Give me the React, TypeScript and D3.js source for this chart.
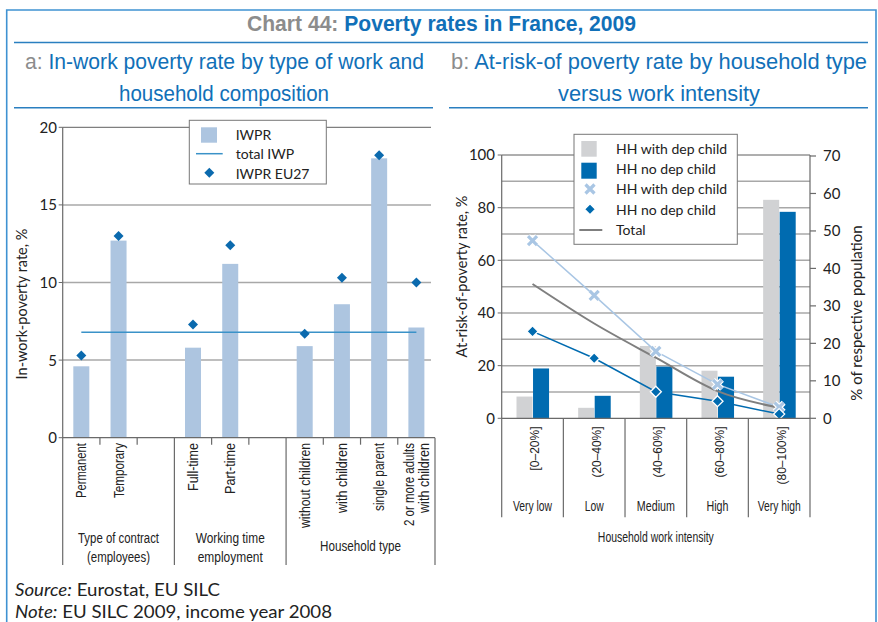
import React from "react";
import * as d3 from "d3";

// ---------- data ----------
const leftCategories = ["Permanent", "Temporary", "", "Full-time", "Part-time", "", "without children", "with children", "single parent", "2 or more adults\nwith children"];
const iwprValues = [4.6, 12.7, null, 5.8, 11.2, null, 5.9, 8.6, 18.0, 7.1];
const iwprEU27Values = [5.3, 13.0, null, 7.3, 12.4, null, 6.7, 10.3, 18.2, 10.0];
const totalIWP = 6.8;
const leftTicks = [0, 5, 10, 15, 20];
const leftGroups = [
  { label: ["Type of contract", "(employees)"], from: 0, to: 3 },
  { label: ["Working time", "employment"], from: 3, to: 6 },
  { label: ["Household type"], from: 6, to: 10 },
];

const intensityRanges = ["[0\u201320%]", "(20\u201340%]", "(40\u201360%]", "(60\u201380%]", "(80\u2013100%]"];
const intensityLabels = ["Very low", "Low", "Medium", "High", "Very high"];
const popWithChild = [5.8, 2.8, 19.3, 12.7, 58.3];
const popNoChild = [13.3, 6.0, 13.8, 11.1, 55.1];
const arpWithChild = [67.5, 46.7, 25.4, 12.9, 4.2];
const arpNoChild = [33.0, 22.8, 10.1, 6.5, 1.6];
const arpTotal = [51, 36, 23, 10.3, 4];
const rightLeftTicks = [0, 20, 40, 60, 80, 100];
const rightGridTicks = [0, 10, 20, 30, 40, 50, 60, 70, 80, 90, 100];
const rightRightTicks = [0, 10, 20, 30, 40, 50, 60, 70];

// ---------- style ----------
// rendered widths of the condensed-typeface labels (px), used to squeeze a regular font
const labelWidth: Record<string, number> = {
  "Permanent": 55, "Temporary": 55, "Full-time": 48, "Part-time": 51,
  "without children": 85, "with children": 70, "single parent": 68, "2 or more adults": 83,
  "Type of contract": 81, "(employees)": 63, "Working time": 69, "employment": 65, "Household type": 81,
  "[0\u201320%]": 44, "(20\u201340%]": 51, "(40\u201360%]": 51, "(60\u201380%]": 51, "(80\u2013100%]": 58,
  "Very low": 39, "Low": 19, "Medium": 38, "High": 22, "Very high": 43,
  "Household work intensity": 116,
};
const COND = "'Liberation Sans', Arial, sans-serif";
const REG = "Lato, 'Open Sans', sans-serif";
const FRAME = "#3f92d2";
const RULE = "#2a7fc0";
const TITLE_BLUE = "#1170b8";
const TITLE_GRAY = "#8c8c8c";
const GRID = "#a8a8a8";
const AXIS = "#6a6a6a";
const BAR_LIGHT = "#adc5e0";
const EU_BLUE = "#0b6aae";
const IWP_LINE = "#3a92c8";
const BAR_GRAY = "#d1d2d4";
const BAR_BLUE = "#006bb0";
const X_BLUE = "#a9c6e4";
const TOTAL_GRAY = "#7f7f7f";
const TEXT = "#222";

const diamond = (cx: number, cy: number, r: number) =>
  `M${cx},${cy - r}L${cx + r},${cy}L${cx},${cy + r}L${cx - r},${cy}Z`;

function FT(props: any) {
  const { w, children, ...rest } = props;
  const fit = w != null ? { textLength: w, lengthAdjust: "spacingAndGlyphs" } : {};
  return <text {...rest} {...fit}>{children}</text>;
}

function XMark({ cx, cy, r }: { cx: number; cy: number; r: number }) {
  const d = `M${cx - r},${cy - r}L${cx + r},${cy + r}M${cx - r},${cy + r}L${cx + r},${cy - r}`;
  return (
    <g>
      <path d={d} stroke="#fff" strokeWidth={5.5} fill="none" />
      <path d={d} stroke={X_BLUE} strokeWidth={3.2} fill="none" />
    </g>
  );
}

function LeftChart() {
  const x0 = 62.7, x1 = 435, yTop = 127.3, yBot = 437.7, yGroupBot = 565;
  const x = d3.scaleBand<number>().domain(d3.range(leftCategories.length)).range([x0, x1]).padding(0);
  const y = d3.scaleLinear().domain([0, 20]).range([yBot, yTop]);
  const bw = x.bandwidth() * 0.43;
  const cx = (i: number) => (x(i) as number) + x.bandwidth() / 2;
  const validIdx = iwprValues.map((v, i) => (v == null ? -1 : i)).filter((i) => i >= 0);
  const firstC = cx(validIdx[0]);
  const lastC = cx(validIdx[validIdx.length - 1]);
  const boundaries = d3.range(leftCategories.length + 1).map((i) => x0 + i * x.bandwidth());
  const groupEdges = new Set<number>();
  leftGroups.forEach((g) => { groupEdges.add(g.from); groupEdges.add(g.to); });

  return (
    <g>
      {leftTicks.filter((t) => t > 0).map((t) => (
        <line key={t} x1={x0} x2={431} y1={y(t)} y2={y(t)} stroke={t === 20 ? "#5f5f5f" : GRID} strokeWidth={t === 20 ? 1 : 1.5} />
      ))}
      {iwprValues.map((v, i) =>
        v == null ? null : (
          <rect key={i} x={cx(i) - bw / 2} y={y(v)} width={bw} height={yBot - y(v)} fill={BAR_LIGHT} />
        )
      )}
      <line x1={firstC} x2={lastC} y1={y(totalIWP)} y2={y(totalIWP)} stroke={IWP_LINE} strokeWidth={1.5} />
      {iwprEU27Values.map((v, i) =>
        v == null ? null : <path key={i} d={diamond(cx(i), y(v), 5)} fill={EU_BLUE} />
      )}
      <line x1={x0} x2={x0} y1={yTop} y2={yGroupBot} stroke={AXIS} strokeWidth={1.2} />
      <line x1={x0} x2={x1} y1={yBot} y2={yBot} stroke={AXIS} strokeWidth={1.2} />
      {leftTicks.map((t) => (
        <g key={t}>
          <line x1={x0 - 4} x2={x0} y1={y(t)} y2={y(t)} stroke={AXIS} strokeWidth={1} />
          <text x={57} y={y(t)} dy="0.36em" textAnchor="end" fontFamily={REG} fontSize={15} fill={TEXT}>{t}</text>
        </g>
      ))}
      {boundaries.map((bx, i) =>
        i === 0 ? null : (
          <line key={i} x1={bx} x2={bx} y1={yBot} y2={groupEdges.has(i) ? yGroupBot : yBot + 7} stroke={AXIS} strokeWidth={1.2} />
        )
      )}
      {leftCategories.map((c, i) => {
        if (!c) return null;
        const lines = c.split("\n");
        return (
          <g key={i}>
            {lines.map((ln, k) => (
              <FT key={k} w={labelWidth[ln]} transform={`translate(${cx(i) + (k - (lines.length - 1) / 2) * 14.5},443) rotate(-90)`} dy="0.36em" textAnchor="end" fontFamily={COND} fontSize={14} fill={TEXT}>{ln}</FT>
            ))}
          </g>
        );
      })}
      {leftGroups.map((g, i) => {
        const gx = (boundaries[g.from] + boundaries[g.to]) / 2;
        const baseY = g.label.length === 2 ? 543 : 551;
        return (
          <g key={i}>
            {g.label.map((l, k) => (
              <FT key={k} w={labelWidth[l]} x={gx} y={baseY + k * 19} textAnchor="middle" fontFamily={COND} fontSize={14} fill={TEXT}>{l}</FT>
            ))}
          </g>
        );
      })}
      <text transform={`translate(22,304) rotate(-90)`} dy="0.36em" textAnchor="middle" fontFamily={REG} fontSize={14.5} fill={TEXT}>In-work-poverty rate, %</text>
      {/* legend */}
      <rect x={189.3} y={120.3} width={137} height={63.7} fill="#fff" stroke="#777" strokeWidth={1} />
      <rect x={201} y={127.3} width={16} height={15.4} fill={BAR_LIGHT} />
      <text x={235.7} y={135} dy="0.36em" fontFamily={REG} fontSize={14} fill={TEXT}>IWPR</text>
      <line x1={196} x2={222.7} y1={153.7} y2={153.7} stroke={IWP_LINE} strokeWidth={1.5} />
      <text x={235.7} y={153.5} dy="0.36em" fontFamily={REG} fontSize={14} fill={TEXT}>total IWP</text>
      <path d={diamond(209.3, 172.7, 5)} fill={EU_BLUE} />
      <text x={235.7} y={173.5} dy="0.36em" fontFamily={REG} fontSize={14} fill={TEXT}>IWPR EU27</text>
    </g>
  );
}

function RightChart() {
  const x0 = 501.7, x1 = 810, yTop = 155, yBot = 418.3, yGroupBot = 517.3;
  const x = d3.scaleBand<number>().domain(d3.range(intensityRanges.length)).range([x0, x1]).padding(0);
  const yL = d3.scaleLinear().domain([0, 100]).range([yBot, yTop]);
  const yR = d3.scaleLinear().domain([0, 70]).range([yBot, yTop + 1]);
  const cx = (i: number) => (x(i) as number) + x.bandwidth() / 2;
  const half = x.bandwidth() * 0.26;
  const inner = d3.scaleBand<string>().domain(["with", "no"]).range([-half, half]).padding(0);
  const boundaries = d3.range(intensityRanges.length + 1).map((i) => x0 + i * x.bandwidth());
  const line = d3.line<number>().x((_, i) => cx(i)).y((v) => yL(v));
  const totalLine = d3.line<number>().x((_, i) => cx(i)).y((v) => yL(v)).curve(d3.curveMonotoneX);

  return (
    <g>
      {rightGridTicks.filter((t) => t > 0).map((t) => (
        <line key={t} x1={x0} x2={x1} y1={yL(t)} y2={yL(t)} stroke={t === 100 ? "#5f5f5f" : GRID} strokeWidth={t === 100 ? 1 : 1.5} />
      ))}
      {popWithChild.map((v, i) => (
        <rect key={"w" + i} x={cx(i) + (inner("with") as number)} y={yR(v)} width={inner.bandwidth()} height={yBot - yR(v)} fill={BAR_GRAY} />
      ))}
      {popNoChild.map((v, i) => (
        <rect key={"n" + i} x={cx(i) + (inner("no") as number) + 0.5} y={yR(v)} width={inner.bandwidth()} height={yBot - yR(v)} fill={BAR_BLUE} />
      ))}
      <path d={line(arpWithChild) || ""} fill="none" stroke={X_BLUE} strokeWidth={1.5} />
      <path d={totalLine(arpTotal) || ""} fill="none" stroke={TOTAL_GRAY} strokeWidth={2} />
      <path d={line(arpNoChild) || ""} fill="none" stroke={BAR_BLUE} strokeWidth={1.5} />
      {arpWithChild.map((v, i) => <XMark key={i} cx={cx(i)} cy={yL(v)} r={4.5} />)}
      {arpNoChild.map((v, i) => (
        <path key={i} d={diamond(cx(i), yL(v), 5.5)} fill={BAR_BLUE} stroke="#fff" strokeWidth={1.3} />
      ))}
      <line x1={x0} x2={x0} y1={yTop} y2={yGroupBot} stroke={AXIS} strokeWidth={1.2} />
      <line x1={x1} x2={x1} y1={yTop} y2={yGroupBot} stroke={AXIS} strokeWidth={1.2} />
      <line x1={x0} x2={x1} y1={yBot} y2={yBot} stroke={AXIS} strokeWidth={1.2} />
      {boundaries.slice(1, -1).map((bx, i) => (
        <line key={i} x1={bx} x2={bx} y1={yBot} y2={yGroupBot} stroke={AXIS} strokeWidth={1.2} />
      ))}
      {rightLeftTicks.map((t) => (
        <g key={t}>
          <line x1={x0 - 4} x2={x0} y1={yL(t)} y2={yL(t)} stroke={AXIS} strokeWidth={1} />
          <text x={495} y={yL(t)} dy="0.36em" textAnchor="end" fontFamily={REG} fontSize={15} fill={TEXT}>{t}</text>
        </g>
      ))}
      {rightRightTicks.map((t) => (
        <g key={t}>
          <line x1={x1} x2={x1 + 6} y1={yR(t)} y2={yR(t)} stroke={AXIS} strokeWidth={1.2} />
          <text x={823} y={yR(t)} dy="0.36em" textAnchor="start" fontFamily={REG} fontSize={15} fill={TEXT}>{t}</text>
        </g>
      ))}
      {intensityRanges.map((r, i) => (
        <FT key={i} w={labelWidth[r]} transform={`translate(${cx(i) + 1.5},426.5) rotate(-90)`} dy="0.36em" textAnchor="end" fontFamily={COND} fontSize={13.5} fill={TEXT}>{r}</FT>
      ))}
      {intensityLabels.map((l, i) => (
        <FT key={i} w={labelWidth[l]} x={cx(i)} y={511} textAnchor="middle" fontFamily={COND} fontSize={14} fill={TEXT}>{l}</FT>
      ))}
      <FT w={labelWidth["Household work intensity"]} x={(x0 + x1) / 2} y={542} textAnchor="middle" fontFamily={COND} fontSize={14} fill={TEXT}>Household work intensity</FT>
      <text transform={`translate(462,276.5) rotate(-90)`} dy="0.36em" textAnchor="middle" fontFamily={REG} fontSize={14.5} fill={TEXT}>At-risk-of-poverty rate, %</text>
      <text transform={`translate(857,313) rotate(-90)`} dy="0.36em" textAnchor="middle" fontFamily={REG} fontSize={15} fill={TEXT}>% of respective population</text>
      {/* legend */}
      <rect x={574} y={134.3} width={163.3} height={110} fill="#fff" stroke="#777" strokeWidth={1} />
      <rect x={581.3} y={141} width={15.4} height={15.7} fill={BAR_GRAY} />
      <text x={616} y={149.3} dy="0.36em" fontFamily={REG} fontSize={14} fill={TEXT}>HH with dep child</text>
      <rect x={581.3} y={162.7} width={15.4} height={16} fill={BAR_BLUE} />
      <text x={616} y={168.5} dy="0.36em" fontFamily={REG} fontSize={14} fill={TEXT}>HH no dep child</text>
      <XMark cx={590} cy={189} r={4.5} />
      <text x={616} y={189.3} dy="0.36em" fontFamily={REG} fontSize={14} fill={TEXT}>HH with dep child</text>
      <path d={diamond(590, 209.3, 5.5)} fill={BAR_BLUE} stroke="#fff" strokeWidth={1.3} />
      <text x={616} y={209.8} dy="0.36em" fontFamily={REG} fontSize={14} fill={TEXT}>HH no dep child</text>
      <line x1={579.3} x2={602.3} y1={230} y2={230} stroke={TOTAL_GRAY} strokeWidth={2} />
      <text x={616} y={230} dy="0.36em" fontFamily={REG} fontSize={14} fill={TEXT}>Total</text>
    </g>
  );
}

export default function App() {
  return (
    <svg width={878} height={622} style={{ position: "absolute", left: 0, top: 0, background: "#fff" }}>
      <rect x={0} y={0} width={878} height={622} fill="#fff" />
      <path d="M6.7,640V10H876V640" fill="none" stroke={FRAME} strokeWidth={1.6} />
      <FT w={389} x={441.5} y={31} textAnchor="middle" fontFamily={COND} fontWeight="bold" fontSize={22}>
        <tspan fill={TITLE_GRAY}>Chart 44: </tspan>
        <tspan fill={TITLE_BLUE}>Poverty rates in France, 2009</tspan>
      </FT>
      <line x1={14} x2={868} y1={42.5} y2={42.5} stroke={RULE} strokeWidth={1.5} />
      <FT w={399} x={224.5} y={69} textAnchor="middle" fontFamily={COND} fontSize={22} fill={TITLE_BLUE}>
        <tspan fill={TITLE_GRAY}>a: </tspan>In-work poverty rate by type of work and
      </FT>
      <FT w={210} x={224} y={100.5} textAnchor="middle" fontFamily={COND} fontSize={22} fill={TITLE_BLUE}>household composition</FT>
      <FT w={416} x={659} y={69} textAnchor="middle" fontFamily={COND} fontSize={22} fill={TITLE_BLUE}>
        <tspan fill={TITLE_GRAY}>b: </tspan>At-risk-of poverty rate by household type
      </FT>
      <FT w={202} x={659} y={100.5} textAnchor="middle" fontFamily={COND} fontSize={22} fill={TITLE_BLUE}>versus work intensity</FT>
      <line x1={14} x2={433} y1={107.7} y2={107.7} stroke={RULE} strokeWidth={1.5} />
      <line x1={449} x2={868} y1={107.7} y2={107.7} stroke={RULE} strokeWidth={1.5} />
      <LeftChart />
      <RightChart />
      <FT w={205} x={15} y={596} fontFamily={REG} fontSize={17} fill={TEXT}>
        <tspan fontStyle="italic">Source:</tspan> Eurostat, EU SILC
      </FT>
      <FT w={317} x={15} y={618} fontFamily={REG} fontSize={17} fill={TEXT}>
        <tspan fontStyle="italic">Note:</tspan> EU SILC 2009, income year 2008
      </FT>
    </svg>
  );
}
